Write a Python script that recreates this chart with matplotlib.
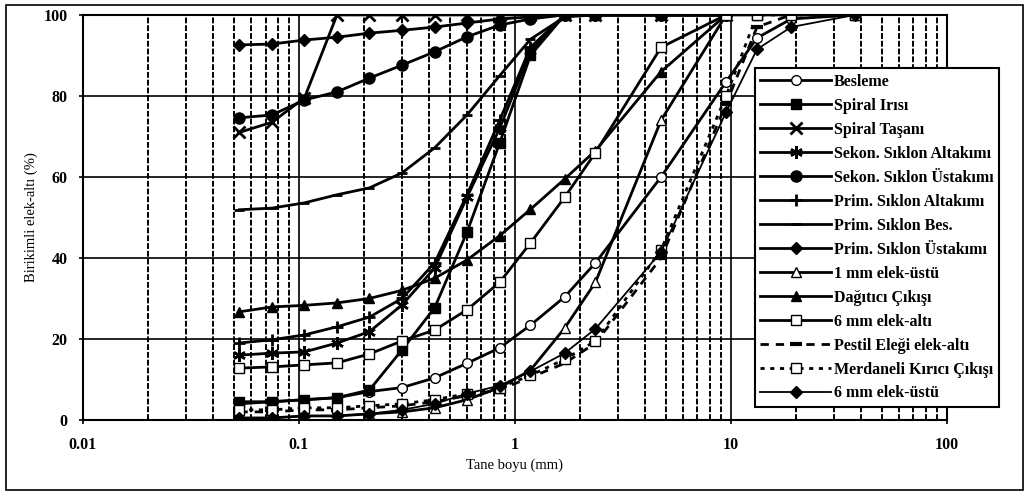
import matplotlib.pyplot as plt
from matplotlib.ticker import FixedLocator, NullFormatter

plt.rcParams['font.family'] = ['Liberation Serif', 'DejaVu Serif']

# sieve sizes (mm)
sizes = [0.053, 0.075, 0.106, 0.15, 0.212, 0.3, 0.425, 0.6, 0.85,
         1.18, 1.7, 2.36, 4.75, 9.5, 13.2, 19, 37.5]

# cumulative undersize (%)
besleme = [4, 4.5, 5, 5.5, 7, 8, 10.4, 14, 17.8, 23.4, 30.4, 38.8, 60, 83.5, 94.3, 99, 100]
spiral_irisi = [4.5, 4.5, 5, 5.5, 7.4, 17.3, 27.7, 46.4, 68.4, 90, 100, 100, 100, 100, 100, 100, 100]
spiral_tasani = [71, 73.5, 79.5, 100, 100, 100, 100, 100, 100, 100, 100, 100, 100, 100]
sekon_alt = [16, 16.5, 16.8, 19, 21.8, 28.4, 37.5, 55, 72, 91, 100, 100, 100, 100]
sekon_ust = [74.6, 75.3, 79, 81, 84.4, 87.6, 90.9, 94.6, 97.5, 99, 100, 100, 100, 100]
prim_alt = [19, 19.8, 21, 23, 25.4, 30, 38.8, 55.6, 74, 92, 100, 100, 100, 100]
prim_bes = [51.9, 52.3, 53.6, 55.6, 57.3, 61, 67.2, 75.3, 85, 94, 99.5, 100, 100, 100]
prim_ust = [92.6, 92.8, 93.8, 94.5, 95.5, 96.2, 97, 98, 99, 99.5, 100, 100, 100, 100]
elek1_ustu = [0.5, 0.5, 1, 1, 1.5, 2, 3, 5, 8, 12.3, 22.7, 34, 74, 100]
dagitici = [26.7, 27.9, 28.3, 28.9, 30, 32, 35, 39.5, 45.5, 52, 59.5, 66.5, 86, 100]
elek6_alti = [12.8, 13.1, 13.6, 14.1, 16.3, 19.5, 22.2, 27.2, 34, 43.7, 55, 66, 92, 100]
pestil = [2, 2, 2.5, 2.5, 3, 3.5, 4.5, 6, 7.5, 10.5, 14, 19, 40, 78, 97, 100, 100]
merdaneli = [2.5, 2.5, 3, 3, 3.5, 4, 5, 6.5, 8, 11, 15, 19.5, 42, 80, 100, 100, 100]
elek6_ustu = [0.5, 0.5, 1, 1, 1.5, 2.5, 4, 6.5, 8.5, 12, 16.5, 22.5, 41.5, 76, 91.5, 97, 100]

series = [
    ('Besleme', besleme, dict(marker='o', mfc='white', ms=7)),
    ('Spiral Irısı', spiral_irisi, dict(marker='s', ms=7)),
    ('Spiral Taşanı', spiral_tasani, dict(marker='x', ms=8, mew=2)),
    ('Sekon. Sıklon Altakımı', sekon_alt, dict(marker=(6, 2, 0), ms=9, mew=1.8)),
    ('Sekon. Sıklon Üstakımı', sekon_ust, dict(marker='o', ms=8)),
    ('Prim. Sıklon Altakımı', prim_alt, dict(marker='+', ms=9, mew=2)),
    ('Prim. Sıklon Bes.', prim_bes, dict(marker='_', ms=7, mew=2)),
    ('Prim. Sıklon Üstakımı', prim_ust, dict(marker='D', ms=6)),
    ('1 mm elek-üstü', elek1_ustu, dict(marker='^', mfc='white', ms=7)),
    ('Dağıtıcı Çıkışı', dagitici, dict(marker='^', ms=7)),
    ('6 mm elek-altı', elek6_alti, dict(marker='s', mfc='white', ms=7)),
    ('Pestil Eleği elek-altı', pestil, dict(marker='_', ms=9, mew=3, ls=(0, (3, 2.5)))),
    ('Merdaneli Kırıcı Çıkışı', merdaneli, dict(marker='s', mfc='white', ms=7, ls=(0, (1.5, 2)))),
    ('6 mm elek-üstü', elek6_ustu, dict(marker='D', ms=6, lw=1.3)),
]

fig = plt.figure(figsize=(10.27, 4.97), dpi=100)
ax = fig.add_axes([0.0808, 0.155, 0.8412, 0.815])

for name, vals, style in series:
    kw = dict(color='black', lw=2, mec='black', mfc='black')
    kw.update(style)
    ax.plot(sizes[:len(vals)], vals, label=name, **kw)

ax.set_xscale('log')
ax.set_xlim(0.01, 100)
ax.set_ylim(0, 100)

minor = [m * 10.0 ** e for e in range(-2, 2) for m in range(2, 10)]
ax.xaxis.set_minor_locator(FixedLocator(minor))
ax.xaxis.set_minor_formatter(NullFormatter())
ax.set_xticks([0.01, 0.1, 1, 10, 100])
ax.set_xticklabels(['0.01', '0.1', '1', '10', '100'])
ax.set_yticks([0, 20, 40, 60, 80, 100])

for x in minor:
    ax.axvline(x, color='black', lw=1.4, ls=(0, (3, 1)), zorder=0)
for x in [0.1, 1, 10]:
    ax.axvline(x, color='black', lw=1.2, zorder=0)
for y in [20, 40, 60, 80]:
    ax.axhline(y, color='black', lw=1.2, zorder=0)

ax.tick_params(axis='both', which='both', length=3, labelsize=11.5, width=1.2)
ax.tick_params(axis='x', pad=9)
ax.tick_params(axis='y', pad=8)
ax.tick_params(axis='x', which='minor', length=0)
for lab in ax.get_xticklabels() + ax.get_yticklabels():
    lab.set_fontweight('bold')
for s in ax.spines.values():
    s.set_linewidth(1.5)

ax.set_xlabel('Tane boyu (mm)', fontsize=10.5, labelpad=4)
ax.set_ylabel('Birikimli elek-altı (%)', fontsize=10.5, labelpad=4)

leg = ax.legend(loc='upper left', bbox_to_anchor=(0.735, 0.863), bbox_transform=fig.transFigure,
                fontsize=11.5, frameon=True, fancybox=False, framealpha=1, edgecolor='black',
                handlelength=4.4, handletextpad=0.2, labelspacing=0.5, borderpad=0.35,
                borderaxespad=0)
leg.get_frame().set_linewidth(1.5)
for t in leg.get_texts():
    t.set_fontweight('bold')

fig.patches.append(plt.Rectangle((0.006, 0.015), 0.99, 0.975, transform=fig.transFigure,
                                 fill=False, edgecolor='black', lw=1.2))

fig.savefig('out.png', dpi=100)
